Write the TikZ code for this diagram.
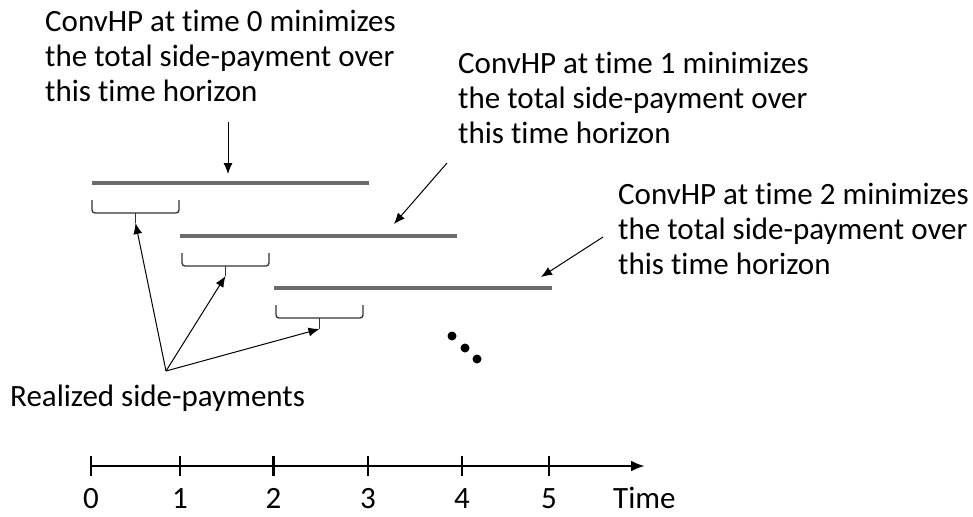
\documentclass[tikz,border=0pt]{standalone}
\usepackage{fontspec}
\setmainfont[Ligatures=NoCommon]{Carlito}
\usetikzlibrary{arrows.meta}
\begin{document}
\begin{tikzpicture}[x=1pt,y=-1pt,
  lbl/.style={anchor=west,align=left,inner sep=0pt,font=\fontsize{31}{35}\selectfont},
  horizon/.style={draw=gray!85!black,line width=4pt},
  brace/.style={draw=black!80,line width=1.3pt,rounded corners=3pt},
  arr/.style={draw,line width=1pt,-{Latex[length=11pt,width=9pt]}},
  axis/.style={line width=2.8pt},
  tick/.style={line width=2.8pt},
  num/.style={font=\fontsize{31}{35}\selectfont,inner sep=0pt,anchor=base}]
\useasboundingbox (0,0) rectangle (973,516);
% text blocks
\node[lbl] (t0) at (45,56) {ConvHP at time 0 minimizes\\the total side-payment over\\this time horizon};
\node[lbl] (t1) at (458,98) {ConvHP at time 1 minimizes\\the total side-payment over\\this time horizon};
\node[lbl] (t2) at (618,229) {ConvHP at time 2 minimizes\\the total side-payment over\\this time horizon};
\node[lbl] (rs) at (10,398) {Realized side-payments};
% horizon bars
\coordinate (h0a) at (92,183); \coordinate (h0b) at (369,183);
\coordinate (h1a) at (180,236); \coordinate (h1b) at (457,236);
\coordinate (h2a) at (274,288); \coordinate (h2b) at (552,288);
\draw[horizon] (h0a) -- (h0b);
\draw[horizon] (h1a) -- (h1b);
\draw[horizon] (h2a) -- (h2b);
% braces
\draw[brace] (92,200) -- (92,213) -- (179,213) -- (179,200);
\draw[brace] (135.5,213) -- (135.5,223);
\coordinate (b0) at (135.5,223);
\draw[brace] (182,253) -- (182,266) -- (269,266) -- (269,253);
\draw[brace] (225.5,266) -- (225.5,276);
\coordinate (b1) at (225.5,276);
\draw[brace] (276,305) -- (276,318) -- (363,318) -- (363,305);
\draw[brace] (319.5,318) -- (319.5,329);
\coordinate (b2) at (319.5,329);
% arrows from text to horizons
\coordinate (a0s) at (228,122); \coordinate (a0e) at (228,174);
\coordinate (a1s) at (447,163); \coordinate (a1e) at (394,224);
\coordinate (a2s) at (603,237); \coordinate (a2e) at (541,277);
\draw[arr] (a0s) -- (a0e);
\draw[arr] (a1s) -- (a1e);
\draw[arr] (a2s) -- (a2e);
% realized side-payment arrows
\coordinate (src) at (166,371);
\draw[arr] (src) -- (b0);
\draw[arr] (src) -- (b1);
\draw[arr] (src) -- (b2);
% dots
\fill (452,336) circle (4.5pt);
\fill (465,348) circle (4.5pt);
\fill (477,359) circle (4.5pt);
% time axis
\coordinate (ax0) at (91,466); \coordinate (axe) at (645,466);
\draw[axis,-{Latex[length=14pt,width=11pt]}] (ax0) -- (axe);
\foreach \i/\x in {0/91,1/180,2/273.5,3/368,4/462,5/549}{
  \draw[tick] (\x,456) -- (\x,476);
  \node[num] (n\i) at (\x,508) {\i};
}
\node[num,anchor=base west] (tm) at (613,508) {Time};
\end{tikzpicture}
\end{document}
